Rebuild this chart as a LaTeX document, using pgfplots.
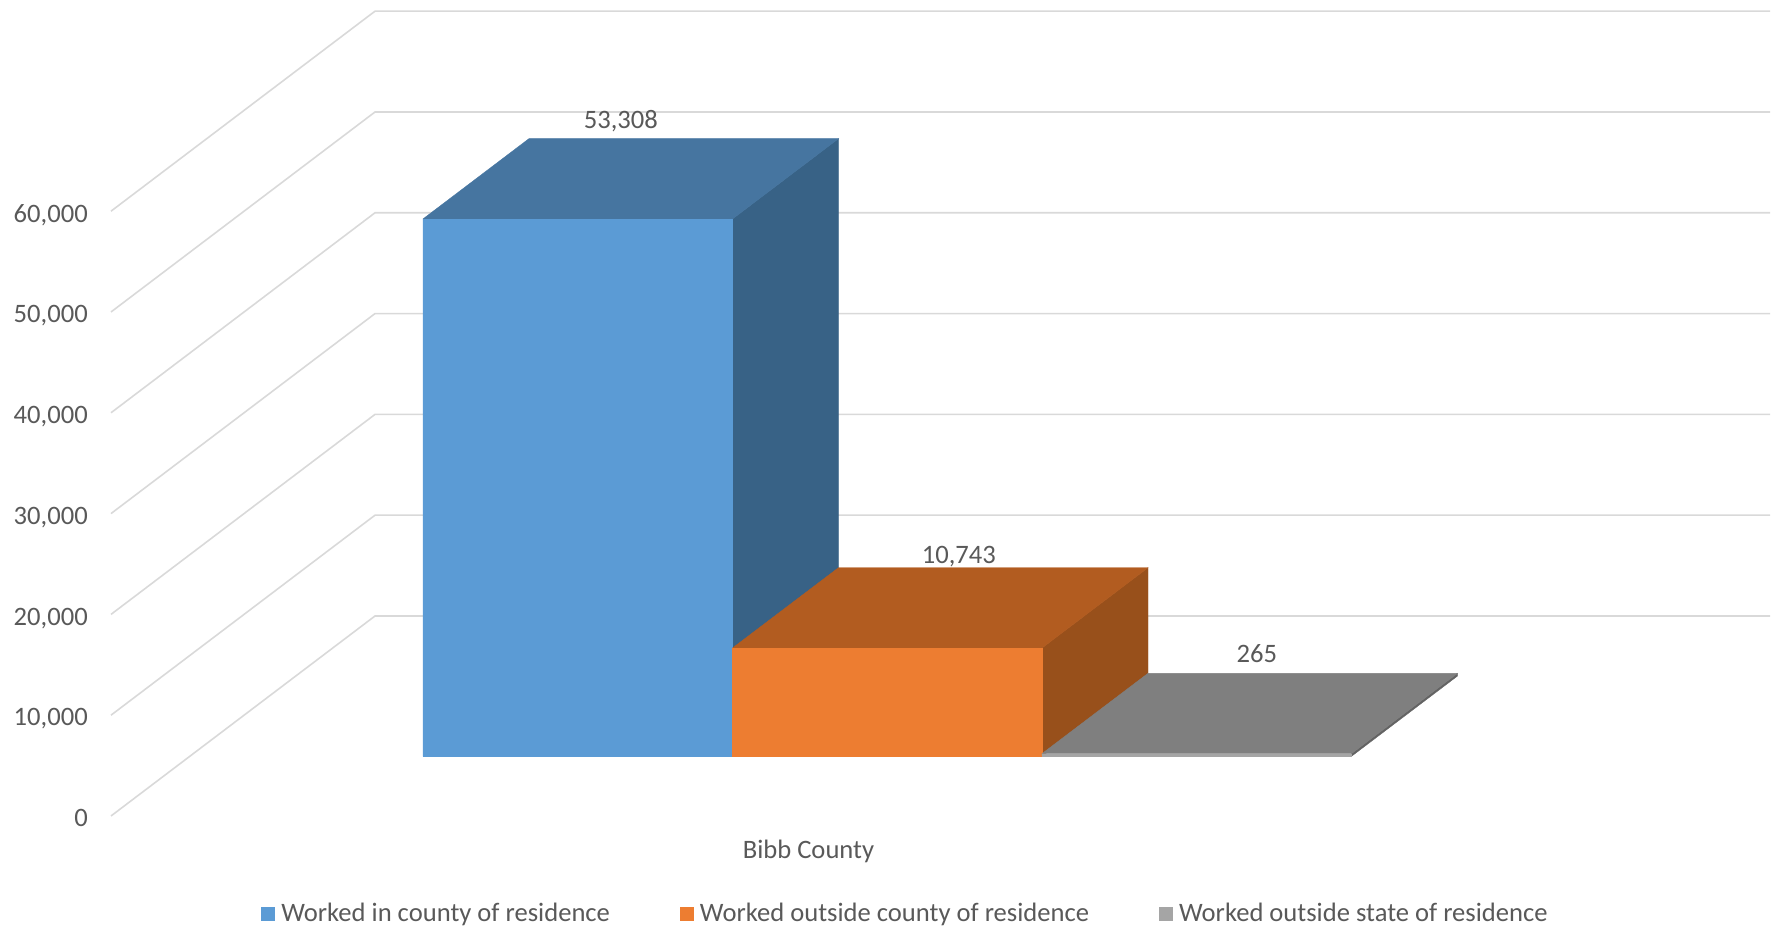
\documentclass[border=0pt]{standalone}
\usepackage{pgfplots}
\pgfplotsset{compat=1.18}
\usepackage{fontspec}
\setmainfont{Carlito}
\definecolor{txt}{HTML}{595959}
\definecolor{gridc}{HTML}{D9D9D9}
\definecolor{bluef}{HTML}{5B9BD5}
\definecolor{bluet}{HTML}{4675A0}
\definecolor{blues}{HTML}{386286}
\definecolor{orangef}{HTML}{ED7D31}
\definecolor{oranget}{HTML}{B25C20}
\definecolor{oranges}{HTML}{98501B}
\definecolor{greyf}{HTML}{A5A5A5}
\definecolor{greyt}{HTML}{7F7F7F}
\definecolor{greys}{HTML}{636363}
% Three faces of one 3D bar: x0, x1, value, side colour, top colour, front colour
\newcommand{\barfaces}[6]{%
  \addplot3[forget plot,fill=#4,draw=#4,line width=0.2pt,mark=none] coordinates {(#2,0.298,0) (#2,0.700,0) (#2,0.700,#3) (#2,0.298,#3) (#2,0.298,0)};
  \addplot3[forget plot,fill=#5,draw=#5,line width=0.2pt,mark=none] coordinates {(#1,0.298,#3) (#2,0.298,#3) (#2,0.700,#3) (#1,0.700,#3) (#1,0.298,#3)};
  \addplot3[fill=#6,draw=#6,line width=0.2pt,mark=none] coordinates {(#1,0.298,0) (#2,0.298,0) (#2,0.298,#3) (#1,0.298,#3) (#1,0.298,0)};
}
\begin{document}
\begin{tikzpicture}[x=1pt,y=1pt]
\useasboundingbox (-55.5,-57) rectangle (831,408);
\begin{axis}[
  at={(0,0)}, anchor=origin,
  x={(0.5pt,0pt)}, y={(132pt,100pt)}, z={(0pt,0.005035pt)},
  xmin=0, xmax=1395, ymin=0, ymax=1, zmin=0, zmax=60000,
  hide axis, clip=false,
  legend columns=3,
  legend cell align=left,
  legend style={at={(axis description cs:0.0904,-0.1220)},anchor=west,draw=none,fill=none,
    font=\fontsize{13.3}{15}\selectfont\color{txt},
    /tikz/every even column/.append style={column sep=32.8pt},
    inner sep=0pt,outer sep=0pt},
  legend image code/.code={\fill[#1,draw=none] (0pt,-3.5pt) rectangle (7pt,3.5pt);\path[draw=none,fill=none] (0pt,0pt) -- (8.2pt,0pt);},
]
\pgfplotsinvokeforeach{0,10000,20000,30000,40000,50000,60000}{
  \addplot3[forget plot,gridc,line width=0.8pt,mark=none] coordinates {(0,0,#1) (0,1,#1) (1395,1,#1)};
}
\barfaces{233.2}{542.7}{53308}{blues}{bluet}{bluef}
\addlegendentry{Worked in county of residence}
\barfaces{542.7}{852.2}{10743}{oranges}{oranget}{orangef}
\addlegendentry{Worked outside county of residence}
\barfaces{852.2}{1161.7}{265}{greys}{greyt}{greyf}
\addlegendentry{Worked outside state of residence}
\tikzset{tl/.style={anchor=east,text=txt,font=\fontsize{13.3}{15}\selectfont,xshift=-8.1pt,yshift=-1.2pt},
         dl/.style={text=txt,font=\fontsize{13.3}{15}\selectfont,anchor=center}}
\node[tl] at (axis cs:0,0,0) {0};
\node[tl,yshift=-0.3pt] at (axis cs:0,0,10000) {10,000};
\node[tl,yshift=-0.7pt] at (axis cs:0,0,20000) {20,000};
\node[tl,yshift=-0.7pt] at (axis cs:0,0,30000) {30,000};
\node[tl,yshift=-0.7pt] at (axis cs:0,0,40000) {40,000};
\node[tl,yshift=-0.7pt] at (axis cs:0,0,50000) {50,000};
\node[tl,yshift=-0.8pt] at (axis cs:0,0,60000) {60,000};
\node[dl,yshift=8.8pt] at (axis cs:325,0.700,53308) {53,308};
\node[dl,yshift=5.7pt] at (axis cs:663,0.700,10743) {10,743};
\node[dl,yshift=10.1pt] at (axis cs:961,0.700,265) {265};
\node[dl,yshift=-17.5pt] at (axis cs:697.5,0,0) {Bibb County};
\end{axis}
\end{tikzpicture}
\end{document}
